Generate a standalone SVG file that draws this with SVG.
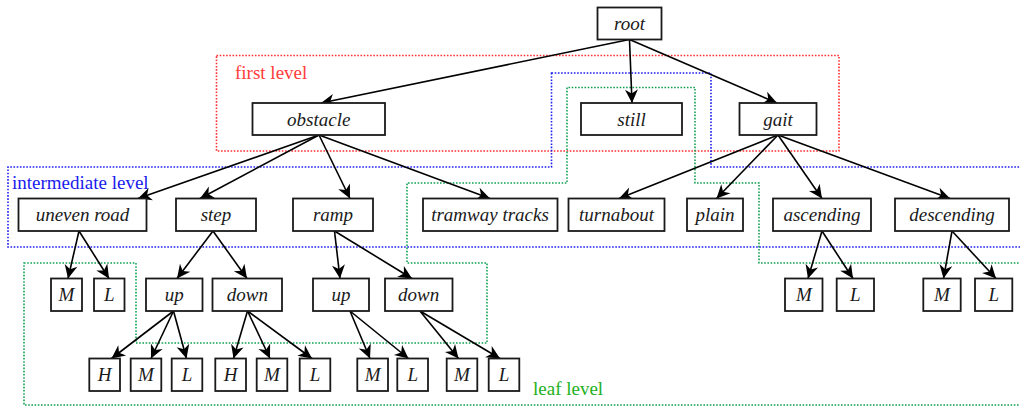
<svg xmlns="http://www.w3.org/2000/svg" width="1020" height="406" viewBox="0 0 1020 406">
<style>
.n rect{fill:#fff;stroke:#1a1a1a;stroke-width:1.8}
.n text{font-family:"Liberation Serif",Tinos,"Times New Roman",Times,"DejaVu Serif",serif;font-style:italic;font-size:19px;fill:#1a1a1a;text-anchor:middle}
.e line{stroke:#000;stroke-width:1.6;marker-end:url(#ah)}
.reg{fill:none;stroke-width:1.6;stroke-dasharray:1.6 1.6}
.lbl{font-family:"Liberation Serif",Tinos,"Times New Roman",Times,"DejaVu Serif",serif;font-size:19px}
</style>
<defs>
<marker id="ah" markerUnits="userSpaceOnUse" viewBox="-14 -8 16 16" markerWidth="16" markerHeight="16" refX="0" refY="0" orient="auto">
<path d="M0,0 L-13.5,-6.5 L-9.5,0 L-13.5,6.5 Z" fill="#000"/>
</marker>
</defs>
<rect width="1020" height="406" fill="#fff"/>
<g id="regions">
<rect class="reg" x="216.5" y="55.5" width="622.5" height="95.5" stroke="#ff3030"/>
<polygon class="reg" points="551.5,73 711,73 711,167 1022,167 1022,247 8,247 8,167 551.5,167" stroke="#1e1eee"/>
<polygon class="reg" points="24,263 136,263 136,343 487,343 487,263 407,263 407,183 567,183 567,87.5 695,87.5 695,183 759,183 759,263 1022,263 1022,405 24,405" stroke="#12a050"/>
<text class="lbl" x="235" y="79" fill="#ff3b3b" font-family="Liberation Serif, DejaVu Serif, serif">first level</text>
<text class="lbl" x="12" y="189" fill="#1a1aee" font-family="Liberation Serif, DejaVu Serif, serif">intermediate level</text>
<text class="lbl" x="533" y="395" fill="#22b022" font-family="Liberation Serif, DejaVu Serif, serif">leaf level</text>
</g>
<g id="connectors" class="e">
<line x1="629.5" y1="39.5" x2="321" y2="103"/>
<line x1="629.5" y1="39.5" x2="632" y2="103"/>
<line x1="629.5" y1="39.5" x2="777" y2="103"/>
<line x1="319" y1="135" x2="138" y2="198.5"/>
<line x1="319" y1="135" x2="200" y2="198.5"/>
<line x1="319" y1="135" x2="350" y2="198.5"/>
<line x1="319" y1="135" x2="490" y2="198.5"/>
<line x1="778" y1="135" x2="619" y2="198.5"/>
<line x1="778" y1="135" x2="716.5" y2="198.5"/>
<line x1="778" y1="135" x2="822" y2="198.5"/>
<line x1="778" y1="135" x2="950" y2="198.5"/>
<line x1="79" y1="231" x2="68" y2="278.5"/>
<line x1="79" y1="231" x2="109" y2="278.5"/>
<line x1="213" y1="231" x2="177" y2="278.5"/>
<line x1="213" y1="231" x2="247" y2="278.5"/>
<line x1="334.5" y1="231" x2="340" y2="278.5"/>
<line x1="334.5" y1="231" x2="412" y2="278.5"/>
<line x1="822" y1="231" x2="808" y2="278.5"/>
<line x1="822" y1="231" x2="853" y2="278.5"/>
<line x1="952" y1="231" x2="943.5" y2="278.5"/>
<line x1="952" y1="231" x2="996" y2="278.5"/>
<line x1="173.5" y1="311" x2="111.5" y2="358.5"/>
<line x1="173.5" y1="311" x2="151" y2="358.5"/>
<line x1="173.5" y1="311" x2="186.5" y2="358.5"/>
<line x1="247.5" y1="311" x2="233.5" y2="358.5"/>
<line x1="247.5" y1="311" x2="270" y2="358.5"/>
<line x1="247.5" y1="311" x2="312" y2="358.5"/>
<line x1="350" y1="311" x2="370" y2="358.5"/>
<line x1="350" y1="311" x2="408.5" y2="358.5"/>
<line x1="420" y1="311" x2="458.5" y2="358.5"/>
<line x1="420" y1="311" x2="500" y2="358.5"/>
</g>
<g id="n-root" class="n"><rect x="597.5" y="7.5" width="64" height="32"/><text x="629.5" y="30">root</text></g>
<g id="n-obstacle" class="n"><rect x="252.5" y="103" width="132.5" height="32"/><text x="318.7" y="125.5">obstacle</text></g>
<g id="n-still" class="n"><rect x="581" y="103" width="101" height="32"/><text x="631.5" y="125.5">still</text></g>
<g id="n-gait" class="n"><rect x="739.5" y="103" width="77" height="32"/><text x="778" y="125.5">gait</text></g>
<g id="n-uneven" class="n"><rect x="18.5" y="198.5" width="128" height="32.5"/><text x="82.5" y="221">uneven road</text></g>
<g id="n-step" class="n"><rect x="176" y="198.5" width="80" height="32.5"/><text x="216" y="221">step</text></g>
<g id="n-ramp" class="n"><rect x="293" y="198.5" width="80" height="32.5"/><text x="333" y="221">ramp</text></g>
<g id="n-tramway" class="n"><rect x="423" y="198.5" width="134.5" height="32.5"/><text x="490" y="221">tramway tracks</text></g>
<g id="n-turnabout" class="n"><rect x="568.5" y="198.5" width="96" height="32.5"/><text x="616.5" y="221">turnabout</text></g>
<g id="n-plain" class="n"><rect x="687" y="198.5" width="56" height="32.5"/><text x="715" y="221">plain</text></g>
<g id="n-ascending" class="n"><rect x="773" y="198.5" width="98" height="32.5"/><text x="822" y="221">ascending</text></g>
<g id="n-descending" class="n"><rect x="895" y="198.5" width="114" height="32.5"/><text x="952" y="221">descending</text></g>
<g id="n-ur-M" class="n"><rect x="51" y="278.5" width="31" height="32.5"/><text x="66.5" y="301">M</text></g>
<g id="n-ur-L" class="n"><rect x="94" y="278.5" width="30.5" height="32.5"/><text x="109.3" y="301">L</text></g>
<g id="n-step-up" class="n"><rect x="146" y="278.5" width="56.5" height="32.5"/><text x="174.3" y="301">up</text></g>
<g id="n-step-down" class="n"><rect x="212.5" y="278.5" width="69.5" height="32.5"/><text x="247.3" y="301">down</text></g>
<g id="n-ramp-up" class="n"><rect x="313" y="278.5" width="56" height="32.5"/><text x="341" y="301">up</text></g>
<g id="n-ramp-down" class="n"><rect x="385" y="278.5" width="67.5" height="32.5"/><text x="418.7" y="301">down</text></g>
<g id="n-asc-M" class="n"><rect x="785" y="278.5" width="37.5" height="32.5"/><text x="803.8" y="301">M</text></g>
<g id="n-asc-L" class="n"><rect x="836.7" y="278.5" width="37.3" height="32.5"/><text x="855.3" y="301">L</text></g>
<g id="n-desc-M" class="n"><rect x="923.3" y="278.5" width="37.4" height="32.5"/><text x="942" y="301">M</text></g>
<g id="n-desc-L" class="n"><rect x="975" y="278.5" width="37.3" height="32.5"/><text x="993.7" y="301">L</text></g>
<g id="n-su-H" class="n"><rect x="89.3" y="358.5" width="30.7" height="32.5"/><text x="104.7" y="381">H</text></g>
<g id="n-su-M" class="n"><rect x="130.7" y="358.5" width="30.6" height="32.5"/><text x="146" y="381">M</text></g>
<g id="n-su-L" class="n"><rect x="171.7" y="358.5" width="30.6" height="32.5"/><text x="187" y="381">L</text></g>
<g id="n-sd-H" class="n"><rect x="215.3" y="358.5" width="30.7" height="32.5"/><text x="230.7" y="381">H</text></g>
<g id="n-sd-M" class="n"><rect x="256.7" y="358.5" width="30.6" height="32.5"/><text x="272" y="381">M</text></g>
<g id="n-sd-L" class="n"><rect x="299.7" y="358.5" width="30.6" height="32.5"/><text x="315" y="381">L</text></g>
<g id="n-ru-M" class="n"><rect x="357.3" y="358.5" width="30.7" height="32.5"/><text x="372.7" y="381">M</text></g>
<g id="n-ru-L" class="n"><rect x="397.3" y="358.5" width="30.7" height="32.5"/><text x="412.7" y="381">L</text></g>
<g id="n-rd-M" class="n"><rect x="446.7" y="358.5" width="30.6" height="32.5"/><text x="462" y="381">M</text></g>
<g id="n-rd-L" class="n"><rect x="488.7" y="358.5" width="30.6" height="32.5"/><text x="504" y="381">L</text></g>
</svg>
